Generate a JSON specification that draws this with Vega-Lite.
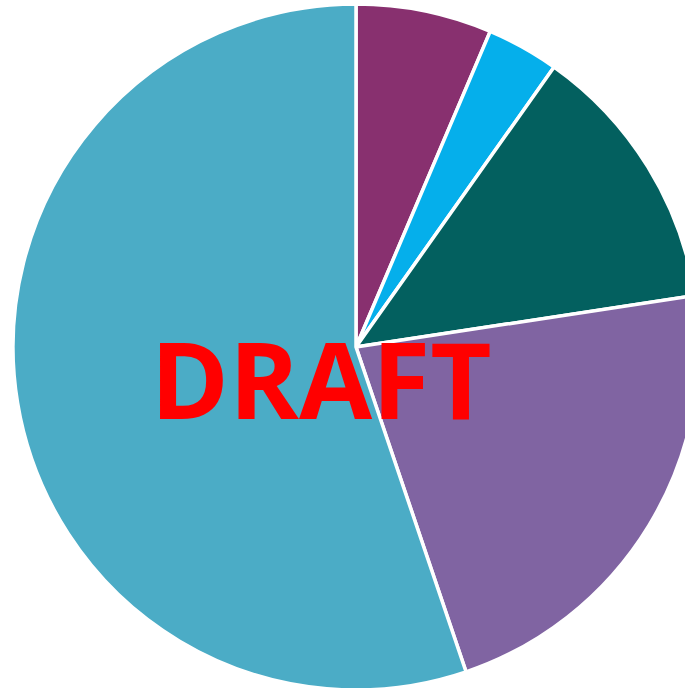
{
  "$schema": "https://vega.github.io/schema/vega-lite/v6.json",
  "width": 712,
  "height": 694,
  "padding": 0,
  "autosize": {"type": "none"},
  "background": "white",
  "config": {"view": {"stroke": null}},
  "layer": [
    {
      "data": {"values": [
        {"category": "A", "value": 6.4, "order": 1},
        {"category": "B", "value": 3.4, "order": 2},
        {"category": "C", "value": 12.8, "order": 3},
        {"category": "D", "value": 22.2, "order": 4},
        {"category": "E", "value": 55.2, "order": 5}
      ]},
      "mark": {"type": "arc", "outerRadius": 343, "stroke": "white", "strokeWidth": 3.5},
      "encoding": {
        "theta": {"field": "value", "type": "quantitative", "stack": true},
        "order": {"field": "order", "type": "quantitative"},
        "color": {
          "field": "category", "type": "nominal", "legend": null,
          "scale": {"domain": ["A", "B", "C", "D", "E"], "range": ["#88306F", "#05AFEB", "#03605F", "#8064A2", "#4BACC6"]}
        }
      }
    },
    {
      "data": {"values": [{"label": "DRAFT"}]},
      "mark": {"type": "text", "font": "Open Sans", "fontWeight": "bold", "fontSize": 106, "color": "#FF0000", "align": "center", "baseline": "middle", "dx": -35, "dy": 40},
      "encoding": {"text": {"field": "label", "type": "nominal"}}
    }
  ]
}
